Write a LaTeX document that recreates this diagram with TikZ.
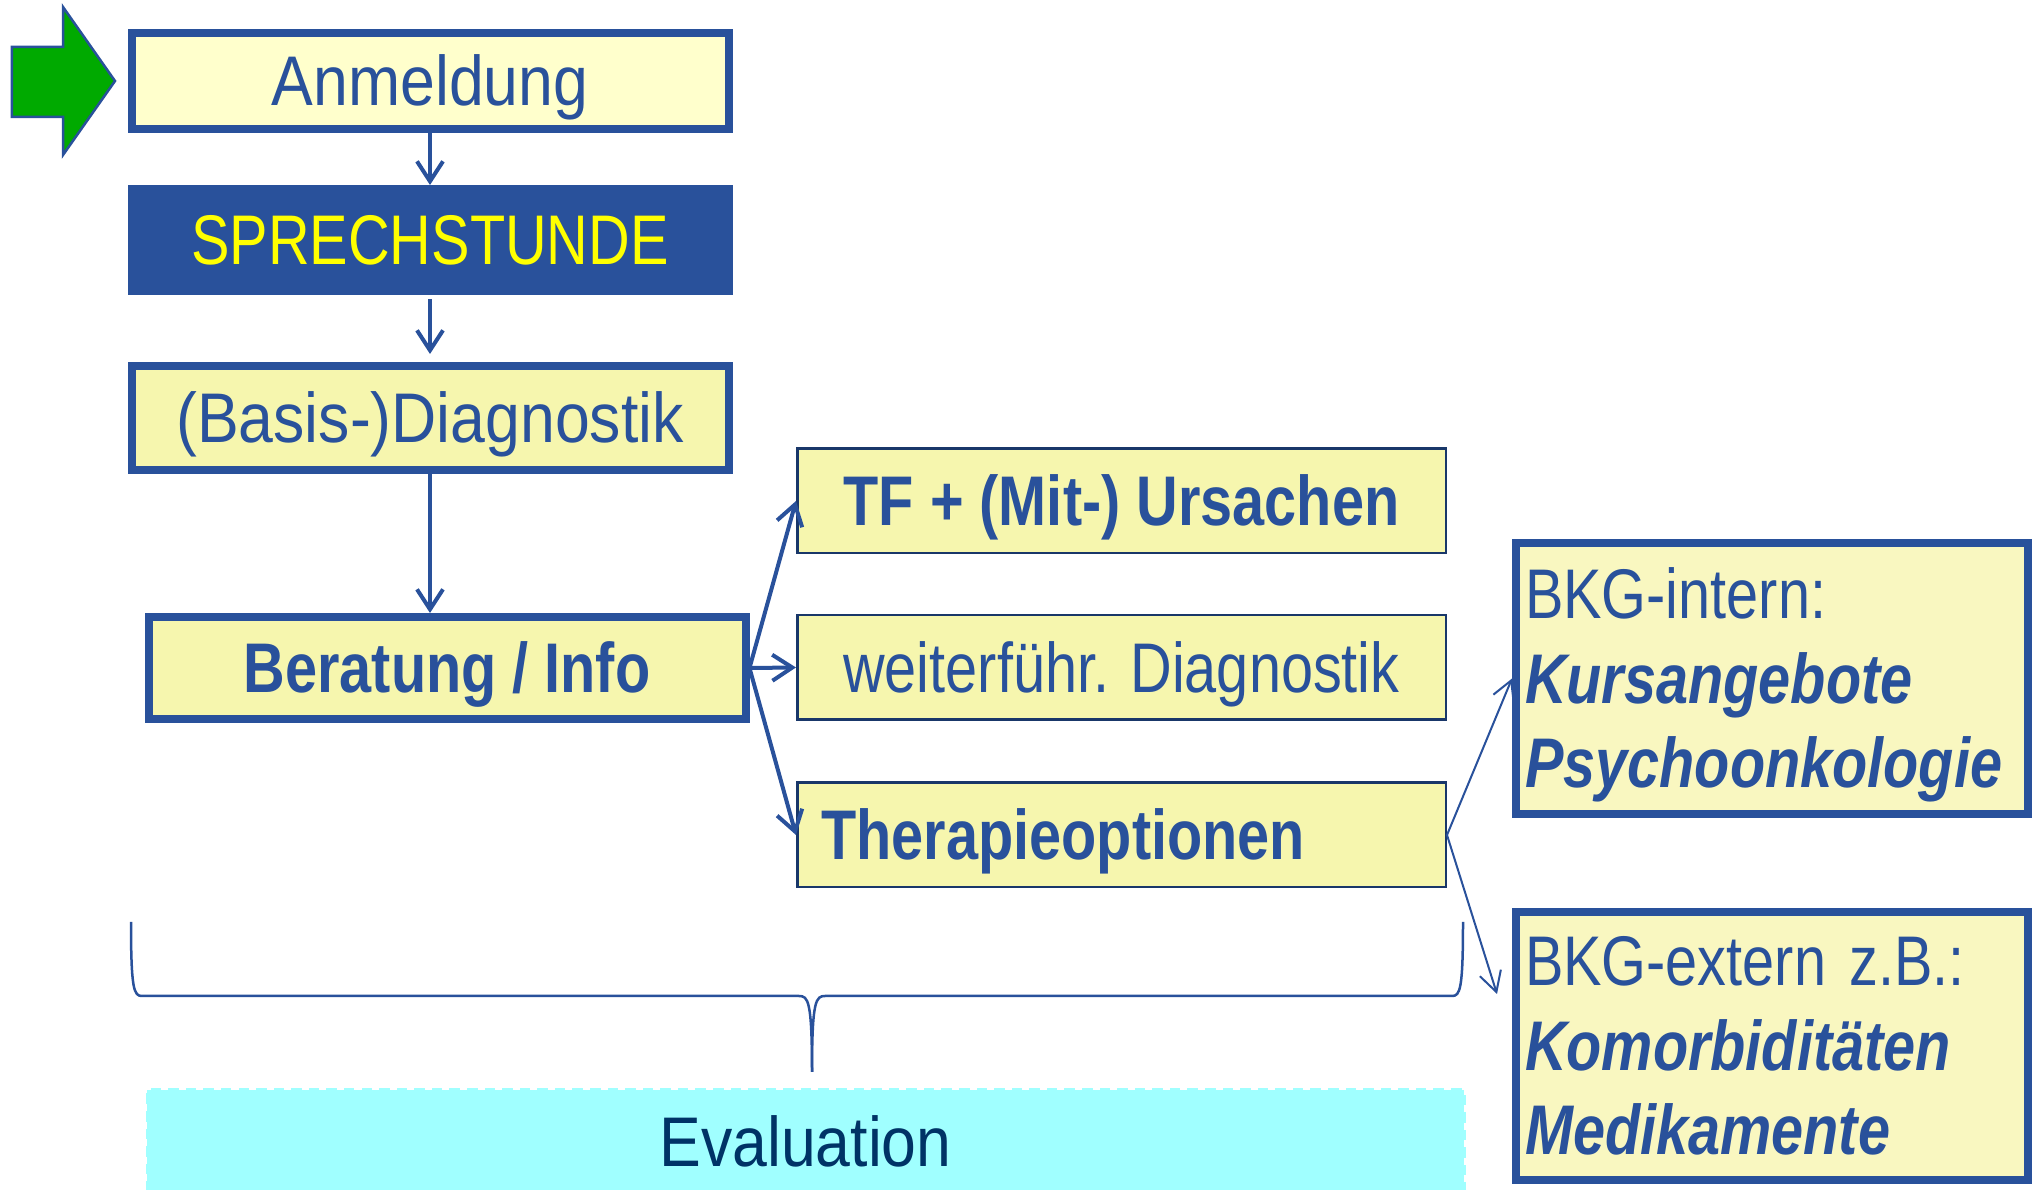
\documentclass[tikz,border=0pt]{standalone}
\usepackage{fontspec}
\setmainfont[FakeStretch=0.82]{Liberation Sans}
\newfontfamily\wideface[FakeStretch=0.89]{Liberation Sans}
\usepackage{xcolor}
\usepackage{tikz}
\usetikzlibrary{arrows.meta}
\definecolor{boxblue}{RGB}{41,81,155}
\definecolor{sidenavy}{RGB}{25,55,105}
\definecolor{lightyellow}{RGB}{255,255,204}
\definecolor{boxyellow}{RGB}{246,246,174}
\definecolor{paleyellow}{RGB}{249,247,192}
\definecolor{sprechyellow}{RGB}{255,255,0}
\definecolor{startgreen}{RGB}{0,170,0}
\definecolor{evalcyan}{RGB}{160,255,255}
\definecolor{evalnavy}{RGB}{0,51,102}
\newcommand{\bigfont}{\fontsize{20}{24}\selectfont}
\tikzset{
    mainbox/.style={rectangle, draw=boxblue, line width=0.08cm, fill=boxyellow, inner sep=0pt, minimum width=5.97cm, minimum height=1.02cm, text=boxblue, font=\wideface\bigfont, text height=0.5cm, text depth=0pt},
    sidebox/.style={rectangle, draw=sidenavy, line width=0.025cm, fill=boxyellow, inner sep=0pt, minimum width=6.485cm, minimum height=1.045cm, text=boxblue, font=\bigfont, text height=0.5cm, text depth=0pt},
    infobox/.style={rectangle, draw=boxblue, line width=0.08cm, fill=paleyellow, inner xsep=0.09cm, minimum width=5.12cm, minimum height=2.68cm, text width=4.94cm, align=left, text=boxblue, font=\bigfont},
    evalbox/.style={rectangle, draw=evalcyan, densely dashed, line width=0.03cm, fill=evalcyan, minimum width=13.17cm, minimum height=1.04cm, text=evalnavy, font=\wideface\bigfont, text height=0.5cm, text depth=0pt},
    myarrow/.style={-{Straight Barb[length=0.2cm,width=0.26cm]}, line width=0.04cm, draw=boxblue},
    thinarrow/.style={-{Straight Barb[length=0.2cm,width=0.22cm]}, line width=0.02cm, draw=boxblue},
    startarrow/.style={draw=boxblue, fill=startgreen, line width=0.025cm},
    bracket/.style={draw=boxblue, line width=0.025cm}
}

\begin{document}
\begin{tikzpicture}
    \useasboundingbox (0,0) rectangle (20.4,-11.9);
    \draw[startarrow] (0.12,-0.47) -- (0.63,-0.47) -- (0.63,-0.07) -- (1.15,-0.81) -- (0.63,-1.55) -- (0.63,-1.17) -- (0.12,-1.17) -- cycle;
    \draw (4.30,-0.81) node[mainbox,fill=lightyellow,minimum height=0.96cm] (anmeldung) {Anmeldung};
    \draw (4.30,-2.40) node[mainbox,draw=none,fill=boxblue,text=sprechyellow,font=\bigfont,outer sep=0pt,minimum width=6.05cm,minimum height=1.10cm] (sprech) {SPRECHSTUNDE};
    \draw[myarrow] (anmeldung) -- (sprech);
    \draw (4.30,-4.18) node[mainbox,minimum height=1.04cm] (basis) {(Basis-)Diagnostik};
    \draw[myarrow,shorten <=0.04cm,shorten >=0.08cm] (sprech) -- (basis);
    \draw (4.47,-6.68) node[mainbox,font=\bigfont\bfseries] (beratung) {Beratung / Info};
    \draw[myarrow] (basis) -- (basis |- beratung.north);
    \draw (11.215,-5.01) node[sidebox,font=\bigfont\bfseries] (ursachen) {TF + (Mit-) Ursachen};
    \draw (11.215,-6.675) node[sidebox] (weiter) {weiterführ. Diagnostik};
    \draw (11.215,-8.35) node[sidebox,font=\bigfont\bfseries,text width=6.0cm,align=left,inner xsep=0.24cm] (therapie) {Therapieoptionen};
    \draw[myarrow] (beratung.east) -- (ursachen.west);
    \draw[myarrow] (beratung.east) -- (weiter.west);
    \draw[myarrow] (beratung.east) -- (therapie.west);
    \draw (17.72,-6.785) node[infobox] (intern) {\rule{0pt}{0.64cm}BKG-intern:\\ \textbf{\textit{Kursangebote}}\\ \textbf{\textit{Psychoonkologie}}};
    \draw (17.72,-10.46) node[infobox] (extern) {BKG-extern z.B.:\\ \textbf{\textit{Komorbiditäten}}\\ \textbf{\textit{Medikamente}}};
    \draw[thinarrow] (therapie.east) -- (intern.west);
    \draw[thinarrow] (therapie.east) -- ([shift={(-0.15,0.52)}]extern.west);
    \draw[bracket] (1.31,-9.22) .. controls (1.31,-9.90) and (1.34,-9.96) .. (1.42,-9.96) -- (7.99,-9.96) .. controls (8.08,-9.96) and (8.12,-10.0) .. (8.12,-10.72);
    \draw[bracket] (14.63,-9.22) .. controls (14.63,-9.90) and (14.60,-9.96) .. (14.52,-9.96) -- (8.25,-9.96) .. controls (8.16,-9.96) and (8.12,-10.0) .. (8.12,-10.72);
    \draw (8.055,-11.42) node[evalbox] (evaluation) {Evaluation};
\end{tikzpicture}
\end{document}
